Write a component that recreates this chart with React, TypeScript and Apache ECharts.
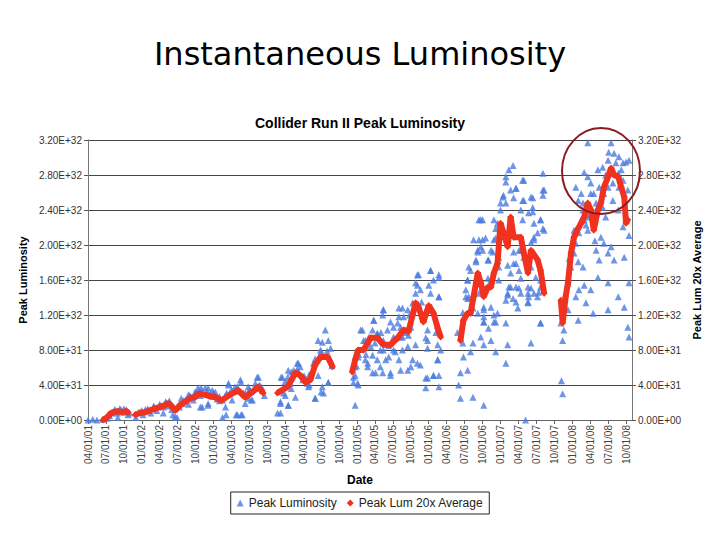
import React, { useEffect, useRef } from 'react';
import * as echarts from 'echarts';

// x: months since 04/01/01 ; y: luminosity in units of 1E+30
const xTickLabels = [
  '04/01/01', '07/01/01', '10/01/01', '01/01/02', '04/01/02', '07/01/02', '10/01/02', '01/01/03',
  '04/01/03', '07/01/03', '10/01/03', '01/01/04', '04/01/04', '07/01/04', '10/01/04', '01/01/05',
  '04/01/05', '07/01/05', '10/01/05', '01/01/06', '04/01/06', '07/01/06', '10/01/06', '01/01/07',
  '04/01/07', '07/01/07', '10/01/07', '01/01/08', '04/01/08', '07/01/08', '10/01/08',
];
const yTickLabels = [
  '0.00E+00', '4.00E+31', '8.00E+31', '1.20E+32', '1.60E+32', '2.00E+32', '2.40E+32', '2.80E+32', '3.20E+32',
];

const peak2001to2003 = [
  [0, 0], [0.8, 1], [1.5, 0], [2.5, 1], [3.2, 2], [3.6, 5], [4.0, 8], [4.5, 11], [4.9, 8], [5.0, 3], [5.5, 12],
  [6.0, 9], [6.4, 12], [6.7, 6], [7.0, 8], [8.0, 3], [8.5, 9], [8.7, 9], [9.2, 6], [9.6, 12], [10.1, 11],
  [10.5, 8], [11.0, 15], [11.5, 11], [12.0, 17], [12.6, 15], [12.6, 8], [13.0, 20], [13.5, 16], [14.0, 12],
  [14.2, 6], [14.6, 4], [14.9, 3], [15.3, 15], [15.8, 19], [16.3, 23], [16.8, 18], [17.2, 27], [17.6, 23],
  [18.0, 31], [18.4, 37], [18.8, 28], [19.1, 15], [19.6, 37], [20.1, 19], [20.5, 30], [20.8, 34], [21.2, 27],
  [21.6, 24], [22.0, 22], [22.5, 3], [22.5, 23], [23.0, 28], [23.5, 42], [24.1, 23], [24.5, 33], [25.0, 6],
  [25.5, 46], [25.8, 6], [26.3, 31], [26.8, 25], [27.1, 34], [27.5, 23], [27.9, 36], [28.3, 49], [28.7, 40],
  [29.2, 34], [29.5, 28],
];
const peakBand2001to2004 = [
  [3.5, 6], [4.5, 12], [5.3, 13], [6.0, 13], [9.0, 11], [10.0, 13], [11.0, 16], [12.0, 18], [13.0, 21],
  [13.6, 22], [15.6, 25], [16.0, 22], [16.8, 29], [17.0, 28], [17.9, 32], [18.8, 15], [18.9, 37], [19.0, 33],
  [20.0, 32], [20.1, 37], [20.1, 17], [21.0, 31], [21.3, 32], [22.0, 27], [23.0, 15], [23.1, 6], [23.2, 31],
  [23.5, 40], [24.0, 35], [24.6, 38], [24.8, 6], [25.0, 38], [25.6, 43], [25.6, 6], [26.0, 31], [26.3, 19],
  [26.8, 38], [27.0, 35], [27.3, 23], [28.0, 42], [28.5, 49], [29.0, 38], [32.2, 8], [32.2, 19], [32.3, 49],
  [33.0, 44], [33.5, 57], [33.5, 17], [34.0, 55], [34.7, 26], [35.0, 58], [35.2, 65], [36.0, 50], [36.9, 38],
  [37.0, 52], [38.0, 70], [38.0, 25], [38.5, 51], [39.0, 78], [39.0, 32], [40.0, 79], [40.2, 43], [40.5, 70],
];
const peak2004 = [
  [31.7, 8], [32.2, 21], [32.5, 49], [32.7, 31], [33.0, 28], [33.4, 49], [33.5, 17], [33.9, 42], [34.0, 36],
  [34.4, 57], [35.0, 65], [35.2, 55], [35.5, 61], [35.9, 46], [36.2, 50], [36.7, 42], [37.0, 40], [37.2, 51],
  [37.7, 65], [38.0, 25], [38.5, 91], [38.9, 80], [39.2, 89], [39.2, 38], [39.4, 31], [39.7, 103], [40.2, 91],
  [40.2, 43], [40.6, 82], [40.8, 62],
];
const peak2005 = [
  [44.4, 49], [44.7, 17], [44.9, 62], [45.1, 42], [45.3, 75], [45.6, 103], [46.1, 91], [46.5, 75], [46.8, 65],
  [47.0, 95], [47.3, 84], [47.6, 54], [47.8, 114], [48.0, 88], [48.4, 99], [48.9, 80], [49.0, 100], [49.4, 126],
  [49.8, 69], [50.1, 103], [50.3, 85], [50.6, 54], [51.1, 95], [51.4, 78], [51.8, 111], [52.0, 128], [52.3, 95],
  [52.6, 80], [52.8, 118], [53.0, 100], [53.5, 57], [53.8, 120], [54.0, 106], [54.3, 69], [54.6, 130],
  [54.8, 157], [55.1, 166], [55.1, 65], [55.6, 149], [55.8, 135], [56.0, 118], [56.5, 94], [56.5, 48],
  [56.5, 37], [56.8, 103], [57.0, 125], [57.3, 171], [57.8, 160], [57.8, 51], [58.2, 100], [58.5, 69],
  [58.7, 166], [58.7, 141], [58.7, 38], [59.0, 80],
];
const peak2005Extra = [
  [55.3, 166], [57.3, 171], [58.7, 163], [55.1, 154], [57.0, 154], [57.3, 145], [54.8, 145], [58.7, 141],
  [54.3, 134], [53.5, 126], [52.6, 128], [49.4, 126], [49.3, 120], [47.8, 114], [50.6, 112], [52.0, 118],
  [52.3, 106], [51.1, 106], [45.9, 103], [47.6, 103], [46.4, 91], [48.4, 99], [49.4, 91], [52.6, 95],
  [53.6, 97], [54.8, 86], [53.5, 84], [51.1, 80], [49.4, 80], [47.6, 74], [46.4, 69], [48.4, 69], [50.3, 72],
  [52.0, 69], [45.2, 72], [44.7, 61], [46.8, 61], [48.9, 61], [48.1, 54], [49.3, 54], [50.6, 51], [52.3, 57],
  [54.0, 61], [55.6, 63], [44.7, 51], [44.4, 43], [45.2, 40], [56.8, 91], [56.8, 82], [58.5, 86], [56.8, 48],
  [57.8, 51], [58.7, 51], [58.5, 69],
];
const peak2006to2007 = [
  [61.8, 100], [62.0, 40], [62.3, 25], [64.4, 26], [66.2, 17], [62.3, 54], [62.8, 72], [63.5, 57], [64.0, 78],
  [62.7, 88], [64.4, 88], [65.7, 95], [66.2, 86], [67.4, 91], [68.2, 78], [69.9, 65], [70.2, 86], [74.1, 88],
  [75.7, 111], [73.2, 0], [65.2, 122], [66.2, 112], [67.9, 112], [67.0, 105], [63.7, 141], [63.2, 141],
  [65.4, 145], [68.5, 122], [66.2, 126], [63.5, 160], [65.2, 163], [63.7, 175], [64.9, 183], [65.7, 198],
  [65.2, 194], [66.0, 206], [65.4, 229], [66.0, 229], [64.5, 206], [66.9, 183], [67.4, 194], [67.9, 206],
  [68.5, 225], [67.4, 160], [68.7, 160], [69.0, 248], [69.5, 257], [69.9, 278], [70.4, 286], [71.1, 291],
  [70.7, 263], [71.6, 265], [72.7, 274], [72.9, 251], [74.1, 255], [74.4, 238], [72.4, 240], [75.7, 229],
  [76.1, 219], [76.3, 263], [76.1, 282], [75.2, 214], [74.6, 206], [72.1, 194], [71.6, 179], [70.4, 152],
  [71.6, 152], [73.6, 152], [70.2, 145], [72.4, 145], [73.7, 141], [74.6, 145], [75.4, 146], [73.6, 134],
  [71.1, 139], [71.9, 128], [74.9, 163], [75.7, 160], [70.7, 168], [74.1, 175], [72.9, 186],
];
const peak2006Extra = [
  [69.9, 272], [71.6, 265], [72.9, 274], [76.1, 263], [76.1, 257], [69.4, 255], [71.2, 254], [72.7, 251],
  [74.4, 254], [69.9, 248], [74.4, 243], [73.7, 237], [69.0, 240], [65.7, 229], [67.9, 229], [72.7, 229],
  [75.7, 229], [74.6, 225], [68.2, 219], [76.3, 217], [65.4, 206], [66.5, 208], [68.2, 208], [74.6, 209],
  [74.1, 203], [66.0, 194], [65.2, 192], [67.7, 192], [67.0, 183], [71.2, 192], [72.4, 194], [68.7, 186],
  [64.9, 181], [70.2, 177], [71.2, 179], [64.0, 171], [72.1, 171], [68.7, 175], [63.5, 160], [66.9, 162],
  [72.4, 162], [70.7, 152], [72.1, 151], [74.1, 151], [75.7, 152], [70.2, 143], [73.6, 145], [75.2, 141],
  [63.2, 149], [63.5, 139], [64.4, 128], [66.2, 129], [67.4, 129], [69.9, 137], [71.6, 135], [73.6, 135],
  [66.2, 118], [67.9, 120], [68.2, 112], [66.2, 112], [69.9, 111], [75.7, 111], [62.7, 123],
];
const peak2008 = [
  [79.2, 45], [79.4, 30], [79.4, 91], [79.6, 103], [79.1, 111], [82.0, 114], [80.3, 126], [82.1, 149],
  [81.6, 141], [83.0, 154], [82.8, 175], [82.0, 181], [81.3, 191], [81.6, 202], [80.8, 175], [80.3, 157],
  [81.3, 217], [82.1, 214], [83.0, 229], [83.6, 232], [84.1, 243], [82.8, 240], [82.0, 251], [82.5, 259],
  [81.6, 266], [83.6, 278], [83.0, 283], [84.1, 271], [84.6, 259], [85.5, 266], [85.3, 286], [86.1, 289],
  [87.0, 297], [87.5, 317], [87.1, 306], [88.0, 305], [88.8, 301], [89.5, 294], [90.0, 295], [90.5, 297],
  [88.7, 282], [89.5, 274], [90.3, 263], [83.6, 317], [85.8, 209], [86.3, 202], [87.0, 191], [87.5, 198],
  [85.0, 194], [85.5, 183], [87.0, 157], [85.3, 163], [88.0, 183], [89.7, 186], [90.5, 157], [90.5, 211],
  [88.7, 141], [87.0, 126], [84.5, 122], [89.7, 129], [90.3, 106], [90.5, 95], [84.1, 149], [83.3, 134],
  [83.6, 217], [84.6, 229], [86.6, 232], [88.7, 240], [86.1, 243], [87.8, 251], [85.5, 248], [89.5, 221],
];
const peak2008Extra = [
  [82.5, 229], [83.3, 223], [84.5, 236], [85.0, 248], [82.8, 248], [84.1, 259], [86.3, 259], [87.0, 266],
  [87.8, 271], [88.8, 266], [89.2, 286], [88.3, 294], [86.6, 280], [81.0, 200], [80.5, 185], [84.8, 205],
];

const avgSeg2001 = [
  [2.5, 0], [3.2, 3], [3.7, 7], [4.2, 9], [5.0, 10], [5.7, 9], [6.4, 10], [6.7, 9],
];
const avgSeg2002 = [
  [7.9, 6], [8.7, 8], [9.6, 9], [10.4, 11], [11.2, 13], [12.1, 15], [12.9, 17], [13.4, 19], [13.7, 18],
  [14.2, 14], [14.6, 11], [15.4, 17], [16.3, 21], [17.1, 25], [17.9, 26], [18.4, 30], [19.6, 29], [20.4, 27],
  [21.3, 26], [22.1, 23],
];
const avgSeg2003 = [
  [22.5, 23], [23.8, 29], [25.1, 34], [26.3, 26], [27.5, 32], [28.5, 38], [29.3, 31],
];
const avgSeg2004 = [
  [31.7, 31], [33.4, 38], [34.7, 54], [35.5, 51], [36.4, 43], [37.2, 46], [38.0, 63], [38.9, 72], [40.1, 72],
  [40.9, 61],
];
const avgSeg2005 = [
  [44.2, 55], [44.7, 69], [45.2, 80], [46.1, 80], [47.3, 94], [48.4, 94], [49.4, 86], [50.6, 86], [51.8, 94],
  [52.8, 103], [53.6, 101], [54.3, 120], [54.8, 134], [55.3, 129], [56.1, 112], [57.0, 131], [57.8, 122],
  [58.5, 105], [59.0, 95],
];
const avgSeg2006 = [
  [62.3, 91], [62.8, 114], [63.5, 122], [64.0, 122], [64.5, 141], [65.2, 168], [65.7, 157], [66.2, 141],
  [66.9, 152], [67.4, 152], [67.9, 168], [68.5, 179], [69.0, 225], [69.5, 214], [70.2, 198], [70.7, 232],
  [71.2, 209], [72.4, 209], [72.9, 191], [73.6, 168], [74.1, 194], [75.2, 183], [75.7, 171], [76.3, 145],
];
const avgSeg2008 = [
  [79.1, 137], [79.4, 111], [79.9, 141], [80.3, 157], [80.8, 191], [81.3, 209], [82.0, 219], [82.5, 225],
  [83.0, 232], [83.6, 248], [84.1, 240], [84.6, 217], [85.3, 240], [85.8, 248], [86.3, 266], [87.0, 278],
  [87.5, 288], [88.0, 280], [88.7, 278], [89.2, 266], [89.7, 255], [90.0, 225], [90.3, 229],
];

const BLUE = '#4a7ae0';
const RED = '#f0321e';
const FONT = 'Liberation Sans, Arial, sans-serif';

export default function App() {
  const ref = useRef<HTMLDivElement>(null);
  useEffect(() => {
    if (!ref.current) return;
    const chart = echarts.init(ref.current, undefined, { renderer: 'svg' });
    const blue = [
      ...peak2001to2003, ...peakBand2001to2004, ...peak2004, ...peak2005, ...peak2005Extra,
      ...peak2006to2007, ...peak2006Extra, ...peak2008, ...peak2008Extra,
    ];
    const avgSegs = [avgSeg2001, avgSeg2002, avgSeg2003, avgSeg2004, avgSeg2005, avgSeg2006, avgSeg2008];
    const yFmt = (v: number) => {
      const i = Math.round(v / 40);
      return Math.abs(v - i * 40) < 0.01 ? yTickLabels[i] ?? '' : '';
    };
    const axisLabelY = { color: '#333', fontSize: 10, fontFamily: FONT, margin: 6, formatter: yFmt };
    const nameStyle = { color: '#000', fontSize: 11, fontWeight: 'bold' as const, fontFamily: FONT };
    chart.setOption({
      animation: false,
      backgroundColor: '#fff',
      textStyle: { fontFamily: FONT },
      graphic: [
        {
          type: 'text', x: 360, y: 54,
          style: {
            text: 'Instantaneous Luminosity', fontSize: 32, fontFamily: 'DejaVu Sans',
            fill: '#000', align: 'center', verticalAlign: 'middle',
          },
        },
        {
          type: 'text', x: 360, y: 123,
          style: {
            text: 'Collider Run II Peak Luminosity', fontSize: 14, fontWeight: 'bold', fontFamily: FONT,
            fill: '#000', align: 'center', verticalAlign: 'middle',
          },
        },
        {
          type: 'ellipse', z: 100,
          shape: { cx: 601, cy: 171, rx: 39, ry: 43 },
          style: { fill: 'none', stroke: '#8c1a22', lineWidth: 2 },
        },
      ],
      grid: { left: 88, right: 88, top: 140, bottom: 120 },
      legend: {
        left: 'center', top: 492, orient: 'horizontal',
        borderColor: '#222', borderWidth: 1, padding: [5, 6], itemGap: 10,
        itemWidth: 7, itemHeight: 7,
        textStyle: { fontSize: 12, color: '#222', fontFamily: FONT },
        data: [
          { name: 'Peak Luminosity', icon: 'triangle' },
          { name: 'Peak Lum 20x Average', icon: 'diamond' },
        ],
      },
      xAxis: {
        type: 'value', min: 0, max: 91, interval: 3,
        name: 'Date', nameLocation: 'middle', nameGap: 54,
        nameTextStyle: { ...nameStyle, fontSize: 12 },
        axisLine: { lineStyle: { color: '#666' } },
        axisTick: { length: 4, lineStyle: { color: '#666' } },
        splitLine: { show: false },
        axisLabel: {
          rotate: 90, fontSize: 10, color: '#444', fontFamily: FONT, margin: 5, showMaxLabel: false,
          formatter: (v: number) => {
            const i = Math.round(v / 3);
            return Math.abs(v - i * 3) < 0.01 ? xTickLabels[i] ?? '' : '';
          },
        },
      },
      yAxis: [
        {
          type: 'value', min: 0, max: 320, interval: 40, position: 'left',
          name: 'Peak Luminosity', nameLocation: 'middle', nameRotate: 90, nameGap: 60,
          nameTextStyle: nameStyle,
          axisLine: { show: true, lineStyle: { color: '#777' } },
          axisTick: { show: true, length: 4, lineStyle: { color: '#555' } },
          splitLine: { show: true, lineStyle: { color: '#444', width: 1 } },
          axisLabel: axisLabelY,
        },
        {
          type: 'value', min: 0, max: 320, interval: 40, position: 'right',
          name: 'Peak Lum 20x Average', nameLocation: 'middle', nameRotate: 90, nameGap: 57,
          nameTextStyle: nameStyle,
          axisLine: { show: true, lineStyle: { color: '#777' } },
          axisTick: { show: true, length: 4, lineStyle: { color: '#555' } },
          splitLine: { show: false },
          axisLabel: axisLabelY,
        },
      ],
      series: [
        {
          name: 'Peak Luminosity', type: 'scatter', symbol: 'triangle', symbolSize: 7,
          itemStyle: { color: BLUE }, data: blue, z: 2,
        },
        ...avgSegs.map((seg) => ({
          name: 'Peak Lum 20x Average', type: 'line', yAxisIndex: 1,
          symbol: 'diamond', symbolSize: 7, showAllSymbol: true,
          lineStyle: { color: RED, width: 6 }, itemStyle: { color: RED },
          data: seg, z: 3,
        })),
      ],
    });
    return () => chart.dispose();
  }, []);
  return (
    <div
      ref={ref}
      style={{ position: 'fixed', left: 0, top: 0, width: 720, height: 540, background: '#fff' }}
    />
  );
}
